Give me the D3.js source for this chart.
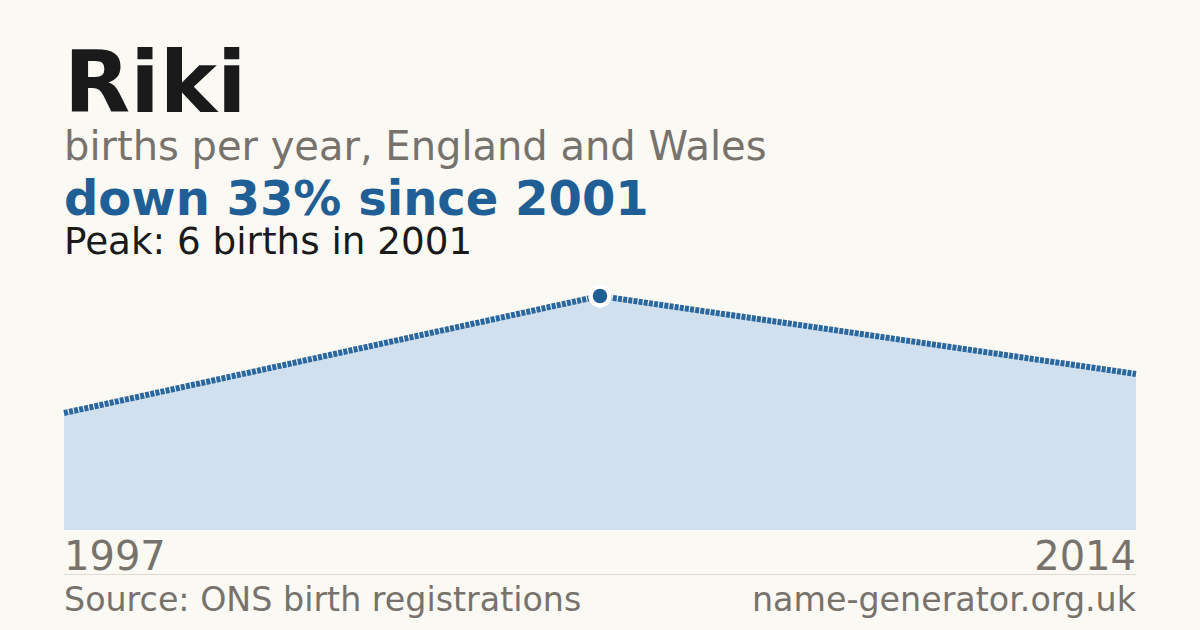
<!DOCTYPE html>
<html>
<head>
<meta charset="utf-8">
<script src="https://cdn.jsdelivr.net/npm/d3@7"></script>
<style>
  body { margin: 0; background: #faf9f4; }
  text { font-family: "DejaVu Sans", sans-serif; }
</style>
</head>
<body>
<div id="chart"></div>
<script>
// ---------------------- data ----------------------
var years = [1997, 2001, 2014];
var births = [3, 6, 4];
var peakYear = 2001;
var peakValue = 6;

// ---------------------- svg ----------------------
var W = 1200, H = 630;
var svg = d3.select("#chart")
     .append("svg")
     .attr("width", W)
     .attr("height", H)
     .style("background", "#faf9f4");

var data = years.map(function (y, i) { return { year: y, value: births[i] }; });

var x = d3.scalePoint()
     .domain(years)
     .range([64, 1136]);

var y = d3.scaleLinear()
     .domain([0, peakValue])
     .range([530, 296]);

// ---------------------- header text ----------------------
svg.append("text")
     .text("Riki")
     .attr("x", 64).attr("y", 112)
     .style("font-size", "86px")
     .style("font-weight", "bold")
     .style("fill", "#1a1a1a");

svg.append("text")
     .text("births per year, England and Wales")
     .attr("x", 64).attr("y", 160)
     .style("font-size", "40px")
     .style("fill", "#77736c");

svg.append("text")
     .text("down 33% since 2001")
     .attr("x", 64).attr("y", 215)
     .style("font-size", "48px")
     .style("font-weight", "bold")
     .style("fill", "#1f5f96");

svg.append("text")
     .text("Peak: " + peakValue + " births in " + peakYear)
     .attr("x", 64).attr("y", 254)
     .style("font-size", "37.3px")
     .style("fill", "#1a1a1a");

// ---------------------- area + line ----------------------
var area = d3.area()
     .x(function (d) { return x(d.year); })
     .y0(y(0))
     .y1(function (d) { return y(d.value); });

var line = d3.line()
     .x(function (d) { return x(d.year); })
     .y(function (d) { return y(d.value); });

svg.append("path")
     .datum(data)
     .attr("d", area)
     .style("fill", "#d0e0ef");

svg.append("path")
     .datum(data)
     .attr("d", line)
     .style("fill", "none")
     .style("stroke", "#2a679e")
     .style("stroke-width", 6)
     .style("stroke-dasharray", "4,1.2");

// peak marker
var peak = data.filter(function (d) { return d.year === peakYear; })[0];
svg.append("circle")
     .attr("cx", x(peak.year))
     .attr("cy", y(peak.value))
     .attr("r", 9.5)
     .style("fill", "#1f5f96")
     .style("stroke", "#ffffff")
     .style("stroke-width", 4.5);

// ---------------------- axis labels ----------------------
var ends = [years[0], years[years.length - 1]];
svg.selectAll("text.yr")
     .data(ends)
     .enter()
     .append("text")
     .attr("class", "yr")
     .text(function (d) { return d; })
     .attr("x", function (d) { return x(d); })
     .attr("y", 570)
     .attr("text-anchor", function (d, i) { return i === 0 ? "start" : "end"; })
     .style("font-size", "40px")
     .style("fill", "#77736c");

svg.append("line")
     .attr("x1", 64).attr("x2", 1136)
     .attr("y1", 574.5).attr("y2", 574.5)
     .style("stroke", "#dedad2")
     .style("stroke-width", 1);

// ---------------------- footer ----------------------
svg.append("text")
     .text("Source: ONS birth registrations")
     .attr("x", 64).attr("y", 611)
     .style("font-size", "33.3px")
     .style("fill", "#77736c");

svg.append("text")
     .text("name-generator.org.uk")
     .attr("x", 1136).attr("y", 611)
     .attr("text-anchor", "end")
     .style("font-size", "33.3px")
     .style("fill", "#77736c");
</script>
</body>
</html>
